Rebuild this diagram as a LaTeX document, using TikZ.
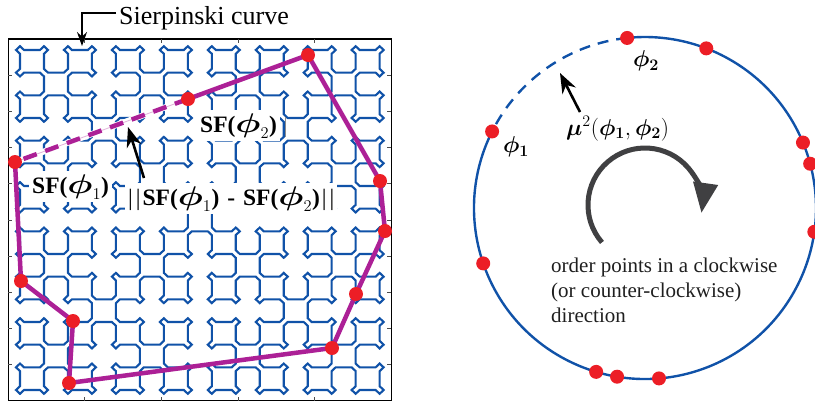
\RequirePackage{fix-cm}
\documentclass[tikz,border=0pt]{standalone}
\usepackage{fontspec}
\setmainfont{Liberation Serif}
\usepackage{bm}
\usetikzlibrary{arrows.meta}
\definecolor{cblue}{RGB}{16,82,168}
\definecolor{dotred}{RGB}{236,30,38}
\definecolor{polymag}{RGB}{172,32,150}
\definecolor{arcgray}{RGB}{64,64,66}
\newcommand\widephi{\scalebox{1.5}[1.15]{$\bm{\phi}$}}
\newcommand\normbars{{\mdseries|\kern3pt|}}
\pgfdeclarelayer{curve}
\pgfdeclarelayer{edges}
\pgfsetlayers{curve,edges,main}
% Sierpinski curve generator (Wirth), diagonal step 1, straight step 4
\newcount\sxc
\newcount\syc
\def\sfmv#1#2{\global\advance\sxc by #1\relax\global\advance\syc by #2\relax\pgfpathlineto{\pgfpointxy{\the\sxc}{\the\syc}}}
\def\wsA#1{\ifnum#1>0 \expandafter\wsAx\expandafter{\the\numexpr#1-1\relax}\fi}
\def\wsB#1{\ifnum#1>0 \expandafter\wsBx\expandafter{\the\numexpr#1-1\relax}\fi}
\def\wsC#1{\ifnum#1>0 \expandafter\wsCx\expandafter{\the\numexpr#1-1\relax}\fi}
\def\wsD#1{\ifnum#1>0 \expandafter\wsDx\expandafter{\the\numexpr#1-1\relax}\fi}
\def\wsAx#1{\wsA{#1}\sfmv{1}{-1}\wsB{#1}\sfmv{4}{0}\wsD{#1}\sfmv{1}{1}\wsA{#1}}
\def\wsBx#1{\wsB{#1}\sfmv{-1}{-1}\wsC{#1}\sfmv{0}{-4}\wsA{#1}\sfmv{1}{-1}\wsB{#1}}
\def\wsCx#1{\wsC{#1}\sfmv{-1}{1}\wsD{#1}\sfmv{-4}{0}\wsB{#1}\sfmv{-1}{-1}\wsC{#1}}
\def\wsDx#1{\wsD{#1}\sfmv{1}{1}\wsA{#1}\sfmv{0}{4}\wsC{#1}\sfmv{-1}{1}\wsD{#1}}
\begin{document}
\begin{tikzpicture}[x=1pt,y=-1pt,
  dot/.style={circle,fill=dotred,minimum size=14pt,inner sep=0pt},
  poly/.style={draw=polymag,line width=4.5pt,line join=round},
  lbl/.style={font=\fontsize{23.5}{28}\selectfont\bfseries,fill=white,inner sep=3pt},
  blk/.style={draw=black,line width=2.6pt,-{Stealth[length=20pt,width=15pt]}},
  tick/.style={draw=black!70,line width=0.9pt}]
\useasboundingbox (0,0) rectangle (815,400);
% ---------- left panel: frame ----------
\draw[line width=1.1pt] (8.3,39) rectangle (391.3,401);
\foreach \k in {1,...,9}{
  \draw[tick] (8.3,{39+36.2*\k}) -- ++(4,0);
  \draw[tick] (391.3,{39+36.2*\k}) -- ++(-4,0);}
\foreach \k in {1,...,4}{
  \draw[tick] ({8.3+76.6*\k},401) -- ++(0,-4);
  \draw[tick] ({8.3+76.6*\k},39) -- ++(0,4);}
% ---------- Sierpinski curve ----------
\begin{pgfonlayer}{curve}
\begin{scope}[shift={(20.0,46.2)},x=3.996pt,y=3.778pt]
\pgfsetlinewidth{2.1pt}
\pgfsetstrokecolor{cblue}
\global\sxc=0 \global\syc=0
\pgfpathmoveto{\pgfpointxy{0}{0}}
\wsA{4}\sfmv{1}{-1}\wsB{4}\sfmv{-1}{-1}\wsC{4}\sfmv{-1}{1}\wsD{4}
\pgfpathclose
\pgfusepath{stroke}
\end{scope}
\end{pgfonlayer}
% ---------- left dots and polygon ----------
\node[dot] (d1) at (15,162) {};
\node[dot] (d2) at (188,99) {};
\node[dot] (d3) at (308,55) {};
\node[dot] (d4) at (380,181) {};
\node[dot] (d5) at (385,231) {};
\node[dot] (d6) at (356,294) {};
\node[dot] (d7) at (332,348) {};
\node[dot] (d8) at (69,383) {};
\node[dot] (d9) at (73,321) {};
\node[dot] (d10) at (21,281) {};
\begin{pgfonlayer}{edges}
\draw[white,line width=6pt] (d2.center) -- (d1.center);
\draw[polymag!35,line width=0.8pt] (d2.center) -- (d1.center);
\draw[poly,dash pattern=on 14pt off 9pt] (d2.center) -- (d1.center);
\draw[poly] (d2.center) -- (d3.center) -- (d4.center) -- (d5.center) -- (d6.center)
  -- (d7.center) -- (d8.center) -- (d9.center) -- (d10.center) -- (d1.center);
\end{pgfonlayer}
% ---------- left labels ----------
\node[font=\fontsize{26}{31}\selectfont,anchor=base west,inner sep=0pt] (sc) at (119,24) {Sierpinski curve};
\coordinate (ls) at (116,13);
\coordinate (lt) at (82,46);
\draw[line width=1.5pt,-{Stealth[length=14pt,width=10pt]}] (ls) -| (lt);
\node[lbl,anchor=base west] (sf2) at (197,132) {SF($\widephi_{2}$)};
\coordinate (vl1) at (285,117);
\coordinate (vl2) at (285,137);
\draw[black!45,line width=0.6pt] (vl1) -- (vl2);
\node[lbl,anchor=base west] (sf1) at (29,193) {SF($\widephi_{1}$)};
\node[lbl,anchor=base west] (nrm) at (125,205) {\normbars\kern2pt SF($\widephi_{1}$)\hspace{8pt}-\hspace{8pt}SF($\widephi_{2}$)\kern2pt\normbars};
\coordinate (a1s) at (144,178);
\coordinate (a1t) at (128,127);
\draw[blk] (a1s) -- (a1t);
% ---------- right panel ----------
\begin{scope}[shift={(645,208)},y=1pt]
\begin{pgfonlayer}{edges}
\draw[cblue,line width=2.4pt,dash pattern=on 11pt off 8pt] (96:171) arc[start angle=96,end angle=153.4,radius=171];
\draw[cblue,line width=2.4pt] (153.4:171) arc[start angle=153.4,end angle=456,radius=171];
\end{pgfonlayer}
\node[dot] (r1) at (96:171) {};
\node[dot] (r2) at (69:171) {};
\node[dot] (r3) at (22.5:171) {};
\node[dot] (r4) at (15:171) {};
\node[dot] (r5) at (-8:171) {};
\node[dot] (r6) at (274.7:171) {};
\node[dot] (r7) at (260.6:171) {};
\node[dot] (r8) at (253.4:171) {};
\node[dot] (r9) at (198.9:171) {};
\node[dot] (r10) at (153.4:171) {};
\draw[arcgray,line width=5pt,-{Triangle[length=30pt,width=24pt]}] ([shift={(0,3)}]221:57) arc[start angle=221,end angle=-8,radius=57];
\end{scope}
\node[font=\fontsize{23}{27}\selectfont,inner sep=0pt] (p2l) at (646,61) {$\bm{\phi}_{\bm{2}}$};
\node[font=\fontsize{23}{27}\selectfont,inner sep=0pt] (p1l) at (516,147) {$\bm{\phi}_{\bm{1}}$};
\node[font=\fontsize{23}{27}\selectfont,anchor=base west,inner sep=0pt] (mu) at (566,135) {$\bm{\mu}^{2}(\bm{\phi}_{\bm{1}},\bm{\phi}_{\bm{2}})$};
\coordinate (a2s) at (580,112);
\coordinate (a2t) at (560,73);
\draw[blk] (a2s) -- (a2t);
\node[font=\fontsize{21}{25}\selectfont,align=left,anchor=north west,inner sep=0pt,text=black!88] (txt) at (551,258) {order points in a clockwise\\(or counter-clockwise)\\direction};
\end{tikzpicture}
\end{document}
